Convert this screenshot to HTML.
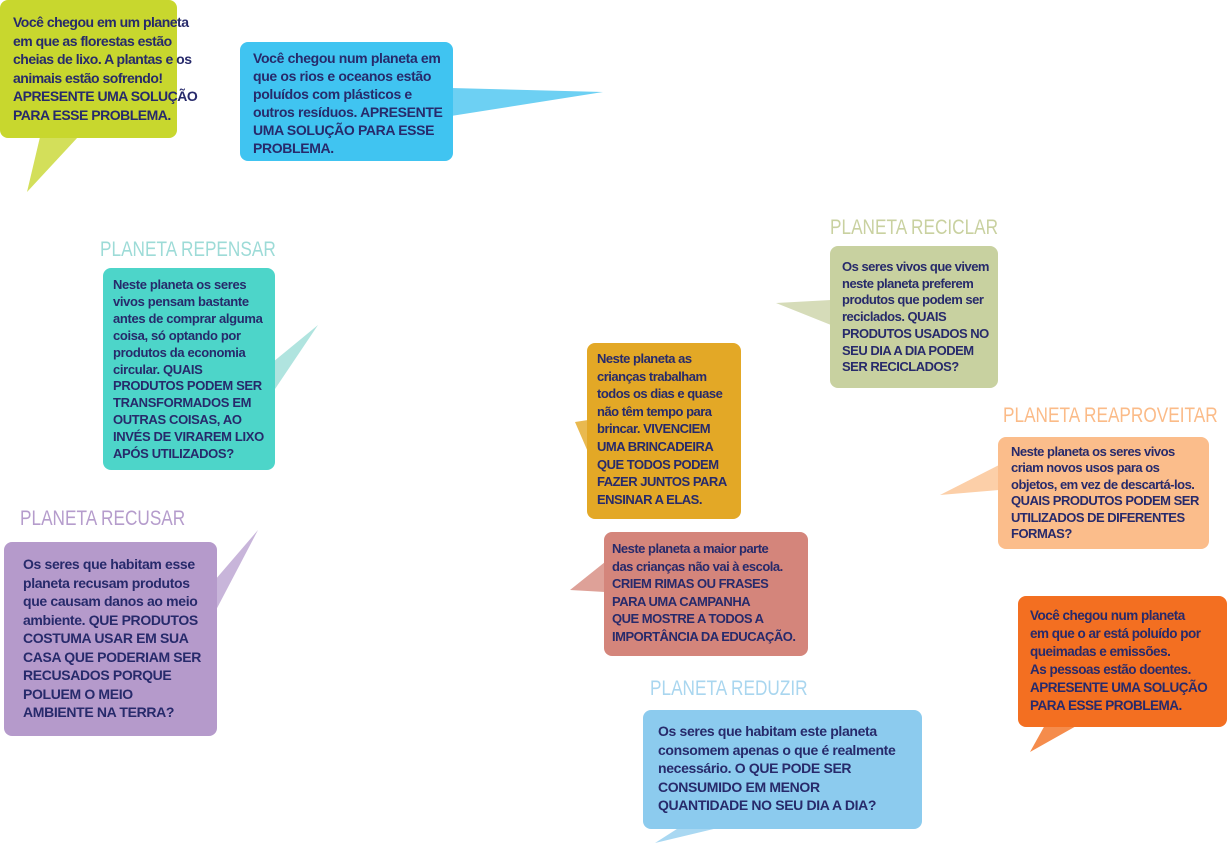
<!DOCTYPE html>
<html><head><meta charset="utf-8"><style>
body{margin:0;width:1227px;height:844px;background:#fff;position:relative;overflow:hidden}
.b{position:absolute;border-radius:8px;box-sizing:border-box;color:#272a6b;font-family:"Liberation Sans",sans-serif;font-weight:bold;font-size:14px;white-space:nowrap;letter-spacing:-0.35px}
.t{position:absolute;font-family:"Liberation Sans",sans-serif;font-size:21px;white-space:nowrap;transform:scaleX(0.82);transform-origin:0 0}
svg{position:absolute;left:0;top:0}
</style></head><body>
<svg width="1227" height="844">
<polygon points="40,137 78,137 27,192" fill="#d3df5a"/>
<polygon points="451,88 451,116 603,92" fill="#6dd0f3"/>
<polygon points="273,362 273,392 318,325" fill="#b0e4df"/>
<polygon points="215,580 215,612 258,530" fill="#c8b5da"/>
<polygon points="831,300 831,325 776,303" fill="#d6dcb9"/>
<polygon points="588,420 588,452 575,422" fill="#e9b94f"/>
<polygon points="999,465 999,490 940,495" fill="#fccfa8"/>
<polygon points="605,562 605,592 570,590" fill="#dea198"/>
<polygon points="1045,725 1078,725 1030,752" fill="#f58c4c"/>
<polygon points="680,827 722,827 655,843" fill="#a9d8f2"/>
</svg>
<div class="b" style="left:0;top:0;width:177px;height:138px;background:#c8d72e;padding:13px 0 0 13px;line-height:18.6px;letter-spacing:-0.5px">Você chegou em um planeta<br>em que as florestas estão<br>cheias de lixo. A plantas e os<br>animais estão sofrendo!<br>APRESENTE UMA SOLUÇÃO<br>PARA ESSE PROBLEMA.</div>
<div class="b" style="left:240px;top:42px;width:213px;height:119px;background:#40c4f1;padding:7px 0 0 13px;line-height:18px">Você chegou num planeta em<br>que os rios e oceanos estão<br>poluídos com plásticos e<br>outros resíduos. APRESENTE<br>UMA SOLUÇÃO PARA ESSE<br>PROBLEMA.</div>
<div class="t" style="left:100px;top:238px;color:#9ddbd7">PLANETA REPENSAR</div>
<div class="b" style="left:103px;top:268px;width:172px;height:202px;background:#4dd5c9;padding:9px 0 0 10px;line-height:16.9px;font-size:13px">Neste planeta os seres<br>vivos pensam bastante<br>antes de comprar alguma<br>coisa, só optando por<br>produtos da economia<br>circular. QUAIS<br>PRODUTOS PODEM SER<br>TRANSFORMADOS EM<br>OUTRAS COISAS, AO<br>INVÉS DE VIRAREM LIXO<br>APÓS UTILIZADOS?</div>
<div class="t" style="left:20px;top:507px;color:#b59ccc">PLANETA RECUSAR</div>
<div class="b" style="left:4px;top:542px;width:213px;height:194px;background:#b59acb;padding:13px 0 0 19px;line-height:18.5px">Os seres que habitam esse<br>planeta recusam produtos<br>que causam danos ao meio<br>ambiente. QUE PRODUTOS<br>COSTUMA USAR EM SUA<br>CASA QUE PODERIAM SER<br>RECUSADOS PORQUE<br>POLUEM O MEIO<br>AMBIENTE NA TERRA?</div>
<div class="t" style="left:830px;top:216px;color:#c9d1a0">PLANETA RECICLAR</div>
<div class="b" style="left:830px;top:246px;width:168px;height:142px;background:#c8d1a0;padding:13px 0 0 12px;line-height:16.7px;font-size:13px;letter-spacing:-0.5px">Os seres vivos que vivem<br>neste planeta preferem<br>produtos que podem ser<br>reciclados. QUAIS<br>PRODUTOS USADOS NO<br>SEU DIA A DIA PODEM<br>SER RECICLADOS?</div>
<div class="b" style="left:587px;top:343px;width:154px;height:176px;background:#e3a826;padding:7px 0 0 10px;line-height:17.6px;font-size:13px;letter-spacing:-0.5px">Neste planeta as<br>crianças trabalham<br>todos os dias e quase<br>não têm tempo para<br>brincar. VIVENCIEM<br>UMA BRINCADEIRA<br>QUE TODOS PODEM<br>FAZER JUNTOS PARA<br>ENSINAR A ELAS.</div>
<div class="t" style="left:1003px;top:404px;color:#fbbb88">PLANETA REAPROVEITAR</div>
<div class="b" style="left:998px;top:437px;width:211px;height:112px;background:#fbbd8b;padding:7px 0 0 13px;line-height:16.4px;font-size:13px;letter-spacing:-0.5px">Neste planeta os seres vivos<br>criam novos usos para os<br>objetos, em vez de descartá-los.<br>QUAIS PRODUTOS PODEM SER<br>UTILIZADOS DE DIFERENTES<br>FORMAS?</div>
<div class="b" style="left:604px;top:532px;width:204px;height:124px;background:#d4857b;padding:8px 0 0 8px;line-height:17.6px;font-size:13px;letter-spacing:-0.5px">Neste planeta a maior parte<br>das crianças não vai à escola.<br>CRIEM RIMAS OU FRASES<br>PARA UMA CAMPANHA<br>QUE MOSTRE A TODOS A<br>IMPORTÂNCIA DA EDUCAÇÃO.</div>
<div class="b" style="left:1018px;top:596px;width:209px;height:131px;background:#f36f21;padding:11px 0 0 12px;line-height:18px;font-size:13.5px;letter-spacing:-0.5px">Você chegou num planeta<br>em que o ar está poluído por<br>queimadas e emissões.<br>As pessoas estão doentes.<br>APRESENTE UMA SOLUÇÃO<br>PARA ESSE PROBLEMA.</div>
<div class="t" style="left:650px;top:677px;color:#a9d6ef">PLANETA REDUZIR</div>
<div class="b" style="left:643px;top:710px;width:279px;height:119px;background:#8ccbee;padding:12px 0 0 15px;line-height:18.5px">Os seres que habitam este planeta<br>consomem apenas o que é realmente<br>necessário. O QUE PODE SER<br>CONSUMIDO EM MENOR<br>QUANTIDADE NO SEU DIA A DIA?</div>
</body></html>
